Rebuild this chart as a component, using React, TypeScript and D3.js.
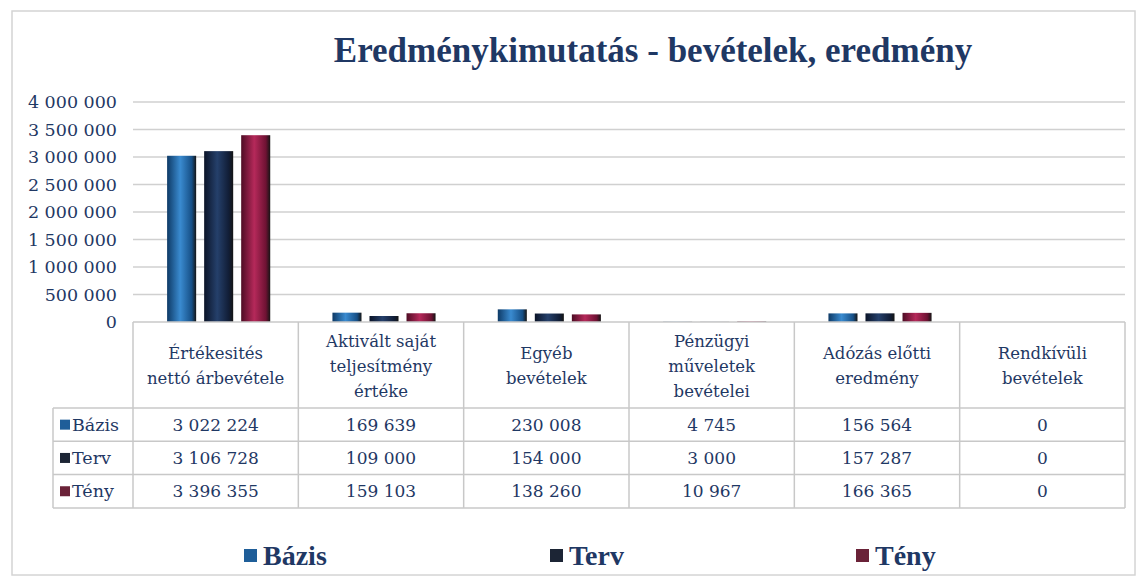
import React from "react";
import * as d3 from "d3";

const categories = [
  ["Értékesités", "nettó árbevétele"],
  ["Aktivált saját", "teljesítmény", "értéke"],
  ["Egyéb", "bevételek"],
  ["Pénzügyi", "műveletek", "bevételei"],
  ["Adózás előtti", "eredmény"],
  ["Rendkívüli", "bevételek"],
];
const seriesNames = ["Bázis", "Terv", "Tény"];
const bazis = [3022224, 169639, 230008, 4745, 156564, 0];
const terv = [3106728, 109000, 154000, 3000, 157287, 0];
const teny = [3396355, 159103, 138260, 10967, 166365, 0];
const yTicks = [0, 500000, 1000000, 1500000, 2000000, 2500000, 3000000, 3500000, 4000000];

const values = [bazis, terv, teny];
const colors = [
  ["#0e3a66", "#3a8bd0", "#164f86"],
  ["#0b1428", "#25406b", "#111d36"],
  ["#4e0c24", "#b5295a", "#6e1233"],
];
const swatch = ["#1f5e99", "#1c2535", "#6a2238"];
const textColor = "#1f3864";
const boldFont = "'Liberation Serif', 'Times New Roman', serif";
const regFont = "'DejaVu Serif', serif";

const W = 1145;
const H = 580;
const left = 133;
const right = 1125;
const yZero = 322;
const yTop = 102;
const tableLeft = 53;
const headerBottom = 408;
const rowH = 33.3;

const fmt = d3.formatLocale({ thousands: " ", grouping: [3], decimal: ",", currency: ["", ""] }).format(",");

export default function App() {
  const x0 = d3.scaleBand<number>().domain(categories.map((_, i) => i)).range([left, right]);
  const x1 = d3.scaleBand<number>().domain([0, 1, 2]).range([0, x0.bandwidth()]).paddingInner(0.216).paddingOuter(0.84);
  const y = d3.scaleLinear().domain([0, 4000000]).range([yZero, yTop]);
  const bx = 3;

  return (
    <svg width={W} height={H} style={{ position: "absolute", left: 0, top: 0, background: "#fff" }}>
      <defs>
        {colors.map((c, i) => (
          <linearGradient key={i} id={`g${i}`} x1="0" x2="1" y1="0" y2="0">
            <stop offset="0" stopColor={c[0]} />
            <stop offset="0.45" stopColor={c[1]} />
            <stop offset="0.85" stopColor={c[2]} />
            <stop offset="1" stopColor="#151515" />
          </linearGradient>
        ))}
      </defs>
      <rect x={12} y={11} width={1123} height={564} fill="#fff" stroke="#d4d4d4" strokeWidth={1.5} />

      <g style={{ fontFamily: regFont }} fill={textColor}>
        <text x={653} y={62} textAnchor="middle" fontSize={35} fontWeight="bold" style={{ fontFamily: boldFont }}>
          Eredménykimutatás - bevételek, eredmény
        </text>

        {/* grid + y labels */}
        {yTicks.map((t) => (
          <g key={t}>
            {t > 0 && <line x1={left} x2={right} y1={y(t)} y2={y(t)} stroke="#d0d0d0" strokeWidth={1.5} />}
            <text x={117} y={y(t)} dy="0.35em" textAnchor="end" fontSize={17.5}>
              {fmt(t)}
            </text>
          </g>
        ))}

        {/* bars */}
        {categories.map((_, ci) => (
          <g key={ci} transform={`translate(${x0(ci)! + bx},0)`}>
            {values.map((s, si) => (
              <rect key={si} x={x1(si)} width={x1.bandwidth()} y={y(s[ci])} height={yZero - y(s[ci])} fill={`url(#g${si})`} />
            ))}
          </g>
        ))}

        {/* data table */}
        <g stroke="#c8c8c8" strokeWidth={1.5} fill="none">
          <line x1={left} x2={right} y1={yZero} y2={yZero} />
          {categories.map((_, ci) => (
            <line key={ci} x1={x0(ci)!} x2={x0(ci)!} y1={yZero} y2={headerBottom + 3 * rowH} />
          ))}
          <line x1={right} x2={right} y1={yZero} y2={headerBottom + 3 * rowH} />
          <line x1={tableLeft} x2={tableLeft} y1={headerBottom} y2={headerBottom + 3 * rowH} />
          {[0, 1, 2, 3].map((r) => (
            <line key={r} x1={tableLeft} x2={right} y1={headerBottom + r * rowH} y2={headerBottom + r * rowH} />
          ))}
        </g>

        {categories.map((lines, ci) => {
          const cx = x0(ci)! + x0.bandwidth() / 2;
          const start = 366 - ((lines.length - 1) * 25) / 2;
          return (
            <text key={ci} textAnchor="middle" fontSize={16.5}>
              {lines.map((l, li) => (
                <tspan key={li} x={cx} y={start + li * 25} dy="0.35em">
                  {l}
                </tspan>
              ))}
            </text>
          );
        })}

        {seriesNames.map((name, si) => {
          const cy = headerBottom + si * rowH + rowH / 2;
          return (
            <g key={name}>
              <rect x={60} y={cy - 5} width={10} height={10} fill={swatch[si]} />
              <text x={72} y={cy} dy="0.35em" fontSize={17.5}>
                {name}
              </text>
              {values[si].map((v, ci) => (
                <text key={ci} x={x0(ci)! + x0.bandwidth() / 2} y={cy} dy="0.35em" textAnchor="middle" fontSize={17}>
                  {fmt(v)}
                </text>
              ))}
            </g>
          );
        })}

        {/* legend */}
        {seriesNames.map((name, si) => {
          const lx = [244, 550, 856][si];
          return (
            <g key={name}>
              <rect x={lx} y={549} width={13} height={13} fill={swatch[si]} />
              <text x={lx + 19} y={555} dy="0.35em" fontSize={28} fontWeight="bold" style={{ fontFamily: boldFont }}>
                {name}
              </text>
            </g>
          );
        })}
      </g>
    </svg>
  );
}
